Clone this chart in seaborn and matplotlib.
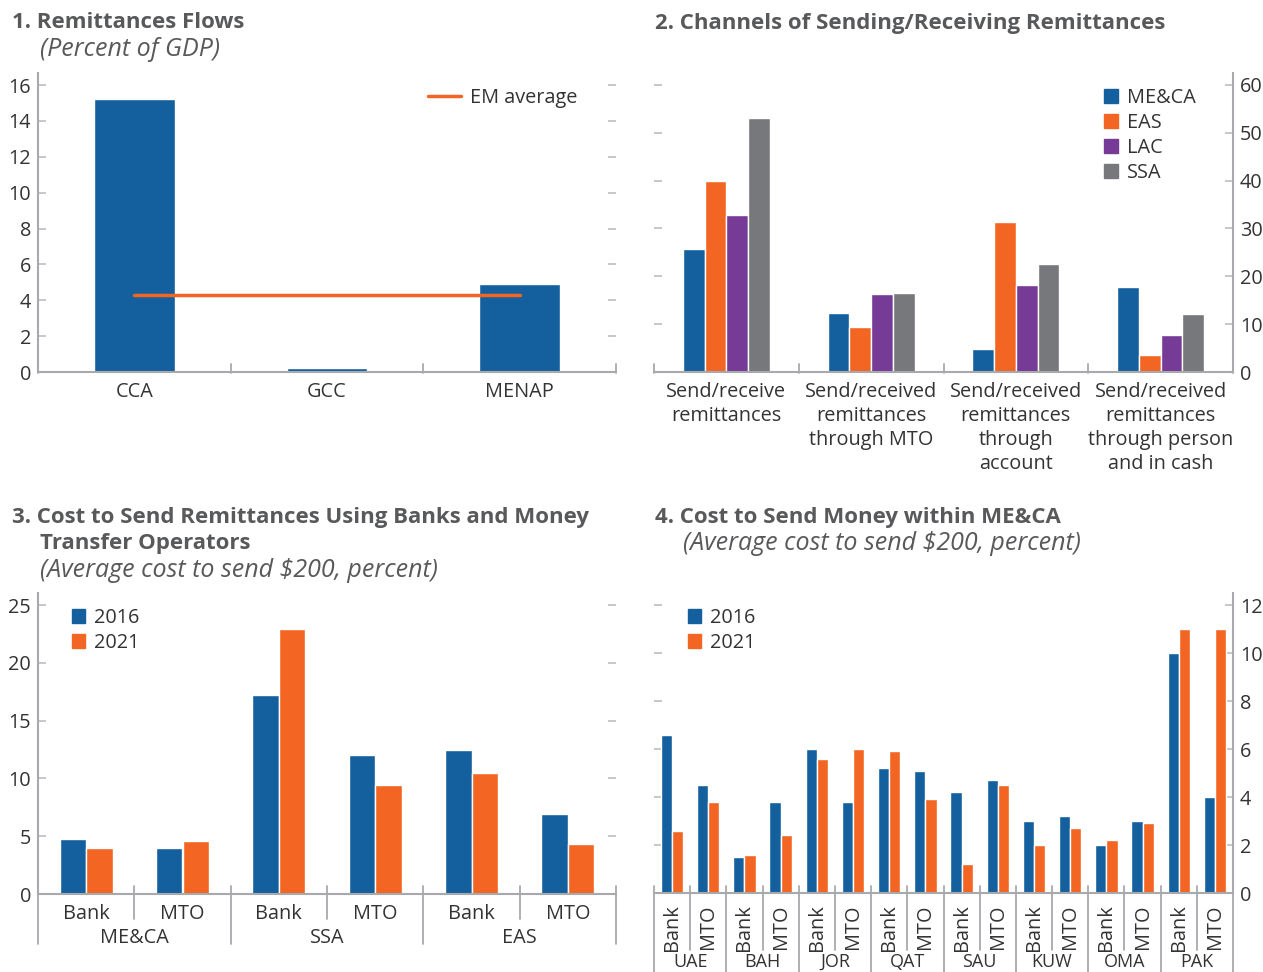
import matplotlib
matplotlib.use("Agg")
import matplotlib.pyplot as plt
import matplotlib.transforms as mtransforms
from matplotlib.patches import Patch
from matplotlib.lines import Line2D
import seaborn as sns
import pandas as pd
import numpy as np

# 1. Remittances flows (percent of GDP)
regions = ["CCA", "GCC", "MENAP"]
remit_gdp = [15.2, 0.2, 4.9]
em_average = 4.3

# 2. Channels of sending/receiving remittances
channels = [
    "Send/receive\nremittances",
    "Send/received\nremittances\nthrough MTO",
    "Send/received\nremittances\nthrough\naccount",
    "Send/received\nremittances\nthrough person\nand in cash",
]
channel_regions = ["ME&CA", "EAS", "LAC", "SSA"]
meca_channel = [25.7, 12.4, 4.9, 17.8]
eas_channel = [40.0, 9.5, 31.4, 3.6]
lac_channel = [32.8, 16.4, 18.2, 7.8]
ssa_channel = [53.1, 16.6, 22.6, 12.2]

# 3. Cost to send remittances using banks and MTOs
cost_regions = ["ME&CA", "SSA", "EAS"]
providers = ["Bank", "MTO"]
cost_2016 = [4.8, 4.0, 17.2, 12.0, 12.5, 6.9]
cost_2021 = [4.0, 4.6, 22.9, 9.4, 10.5, 4.3]

# 4. Cost to send money within ME&CA
countries = ["UAE", "BAH", "JOR", "QAT", "SAU", "KUW", "OMA", "PAK"]
meca_2016 = [6.6, 4.5, 1.5, 3.8, 6.0, 3.8, 5.2, 5.1, 4.2, 4.7, 3.0, 3.2, 2.0, 3.0, 10.0, 4.0]
meca_2021 = [2.6, 3.8, 1.6, 2.4, 5.6, 6.0, 5.9, 3.9, 1.2, 4.5, 2.0, 2.7, 2.2, 2.9, 11.0, 11.0]
years = ["2016", "2021"]

BLUE = "#14609F"
ORANGE = "#F26522"
PURPLE = "#763A97"
GRAY = "#77787B"
SPINE = "#A7A9AC"
TXT = "#333333"
TITLE = "#58595B"
FS = 14.3

sns.set_theme(style="white")
plt.rcParams["font.family"] = ["Open Sans", "DejaVu Sans"]

W, H = 1263, 972
fig = plt.figure(figsize=(W / 100, H / 100), dpi=100)


def box(l, r, t, b):
    return [l / W, 1 - b / H, (r - l) / W, (b - t) / H]


def fy(p):
    return 1 - p / H


def style(ax, side, ymax, step):
    ax.set_ylim(0, ymax)
    ax.set_yticks(np.arange(0, ymax, step))
    for s in ["top", "left", "right"]:
        ax.spines[s].set_visible(False)
    ax.spines[side].set_visible(True)
    ax.spines[side].set_color(SPINE)
    ax.spines[side].set_linewidth(1.5)
    ax.spines["bottom"].set_color(SPINE)
    ax.spines["bottom"].set_linewidth(1.5)
    ax.tick_params(axis="y", left=True, right=True, direction="in", length=6,
                   color="#BCBEC0", width=1.2, labelsize=FS, labelcolor=TXT,
                   labelleft=(side == "left"), labelright=(side == "right"), pad=5)
    ax.tick_params(axis="x", length=0, labelsize=FS, labelcolor=TXT, pad=7)
    ax.set_xlabel("")
    ax.set_ylabel("")


def seps(ax, xs, top, bottom):
    trans = mtransforms.blended_transform_factory(ax.transData, fig.transFigure)
    for x in xs:
        ax.plot([x, x], [fy(top), fy(bottom)], transform=trans, clip_on=False,
                color=SPINE, lw=1.3)


def square_legend(ax, labels, colors, x, y):
    ax.legend(handles=[Patch(color=c) for c in colors], labels=labels,
              loc="upper left", bbox_to_anchor=(x, y), frameon=False,
              fontsize=FS, handlelength=0.7, handleheight=0.7, handletextpad=0.45,
              labelspacing=0.25, borderpad=0, borderaxespad=0, labelcolor=TXT)


# ---- panel 1
ax1 = fig.add_axes(box(38, 616, 73, 372))
df1 = pd.DataFrame({"region": regions, "value": remit_gdp})
sns.barplot(data=df1, x="region", y="value", color=BLUE, saturation=1,
            width=0.42, errorbar=None, ax=ax1)
ax1.plot(range(len(regions)), [em_average] * len(regions), color=ORANGE, lw=2.5)
style(ax1, "left", 16.67, 2)
ax1.set_xlim(-0.5, len(regions) - 0.5)
seps(ax1, np.arange(-0.5, len(regions)), 364, 373)
ax1.legend(handles=[Line2D([0], [0], color=ORANGE, lw=2.5)], labels=["EM average"],
           loc="upper left", bbox_to_anchor=(0.675, 0.95), frameon=False,
           fontsize=FS, handlelength=1.65, handletextpad=0.45, borderpad=0,
           borderaxespad=0, labelcolor=TXT)

# ---- panel 2
ax2 = fig.add_axes(box(654, 1233, 73, 372))
df2 = pd.DataFrame({
    "channel": channels * 4,
    "region": np.repeat(channel_regions, len(channels)),
    "value": meca_channel + eas_channel + lac_channel + ssa_channel,
})
sns.barplot(data=df2, x="channel", y="value", hue="region", order=channels,
            hue_order=channel_regions, palette=[BLUE, ORANGE, PURPLE, GRAY],
            saturation=1, width=0.6, errorbar=None, ax=ax2)
style(ax2, "right", 62.5, 10)
ax2.set_xlim(-0.5, len(channels) - 0.5)
for lab in ax2.get_xticklabels():
    lab.set_linespacing(1.27)
seps(ax2, np.arange(-0.5, len(channels)), 364, 373)
square_legend(ax2, channel_regions, [BLUE, ORANGE, PURPLE, GRAY], 0.778, 0.95)

# ---- panel 3
ax3 = fig.add_axes(box(38, 616, 593, 894))
keys3 = [f"{r} {p}" for r in cost_regions for p in providers]
df3 = pd.DataFrame({
    "key": keys3 * 2,
    "year": np.repeat(years, len(keys3)),
    "value": cost_2016 + cost_2021,
})
sns.barplot(data=df3, x="key", y="value", hue="year", order=keys3, hue_order=years,
            palette=[BLUE, ORANGE], saturation=1, width=0.55, errorbar=None, ax=ax3)
style(ax3, "left", 26.04, 5)
ax3.set_xlim(-0.5, len(keys3) - 0.5)
ax3.set_xticks(range(len(keys3)))
ax3.set_xticklabels(providers * len(cost_regions))
seps(ax3, np.arange(0.5, len(keys3), 2), 886, 919)
seps(ax3, np.arange(-0.5, len(keys3), 2), 886, 944)
trans3 = mtransforms.blended_transform_factory(ax3.transData, fig.transFigure)
for i, r in enumerate(cost_regions):
    ax3.text(2 * i + 0.5, fy(938), r, transform=trans3, ha="center", va="center",
             fontsize=FS, color=TXT)
square_legend(ax3, years, [BLUE, ORANGE], 0.058, 0.95)

# ---- panel 4
ax4 = fig.add_axes(box(654, 1233, 593, 893))
keys4 = [f"{c} {p}" for c in countries for p in providers]
df4 = pd.DataFrame({
    "key": keys4 * 2,
    "year": np.repeat(years, len(keys4)),
    "value": meca_2016 + meca_2021,
})
sns.barplot(data=df4, x="key", y="value", hue="year", order=keys4, hue_order=years,
            palette=[BLUE, ORANGE], saturation=1, width=0.62, errorbar=None, ax=ax4)
style(ax4, "right", 12.5, 2)
ax4.set_xlim(-0.5, len(keys4) - 0.5)
ax4.set_xticks(range(len(keys4)))
ax4.set_xticklabels(providers * len(countries), rotation=90)
ax4.tick_params(axis="x", pad=8)
seps(ax4, np.arange(0.5, len(keys4), 2), 886, 950)
seps(ax4, np.arange(-0.5, len(keys4), 2), 886, 975)
trans4 = mtransforms.blended_transform_factory(ax4.transData, fig.transFigure)
for i, c in enumerate(countries):
    ax4.text(2 * i + 0.5, fy(971), c, transform=trans4, ha="center", va="bottom",
             fontsize=13, color=TXT)
square_legend(ax4, years, [BLUE, ORANGE], 0.058, 0.95)

# ---- titles
tkw = dict(fontsize=16, fontweight="bold", color=TITLE, va="center", ha="left")
skw = dict(fontsize=18, fontstyle="italic", color=TITLE, va="center", ha="left")
fig.text(12 / W, fy(23), "1. Remittances Flows", **tkw)
fig.text(40 / W, fy(50), "(Percent of GDP)", **skw)
fig.text(655 / W, fy(23), "2. Channels of Sending/Receiving Remittances", **tkw)
fig.text(12 / W, fy(517), "3. Cost to Send Remittances Using Banks and Money", **tkw)
fig.text(40 / W, fy(543), "Transfer Operators", **tkw)
fig.text(40 / W, fy(570), "(Average cost to send $200, percent)", **skw)
fig.text(655 / W, fy(517), "4. Cost to Send Money within ME&CA", **tkw)
fig.text(683 / W, fy(543), "(Average cost to send $200, percent)", **skw)

fig.savefig("out.png", dpi=100)
